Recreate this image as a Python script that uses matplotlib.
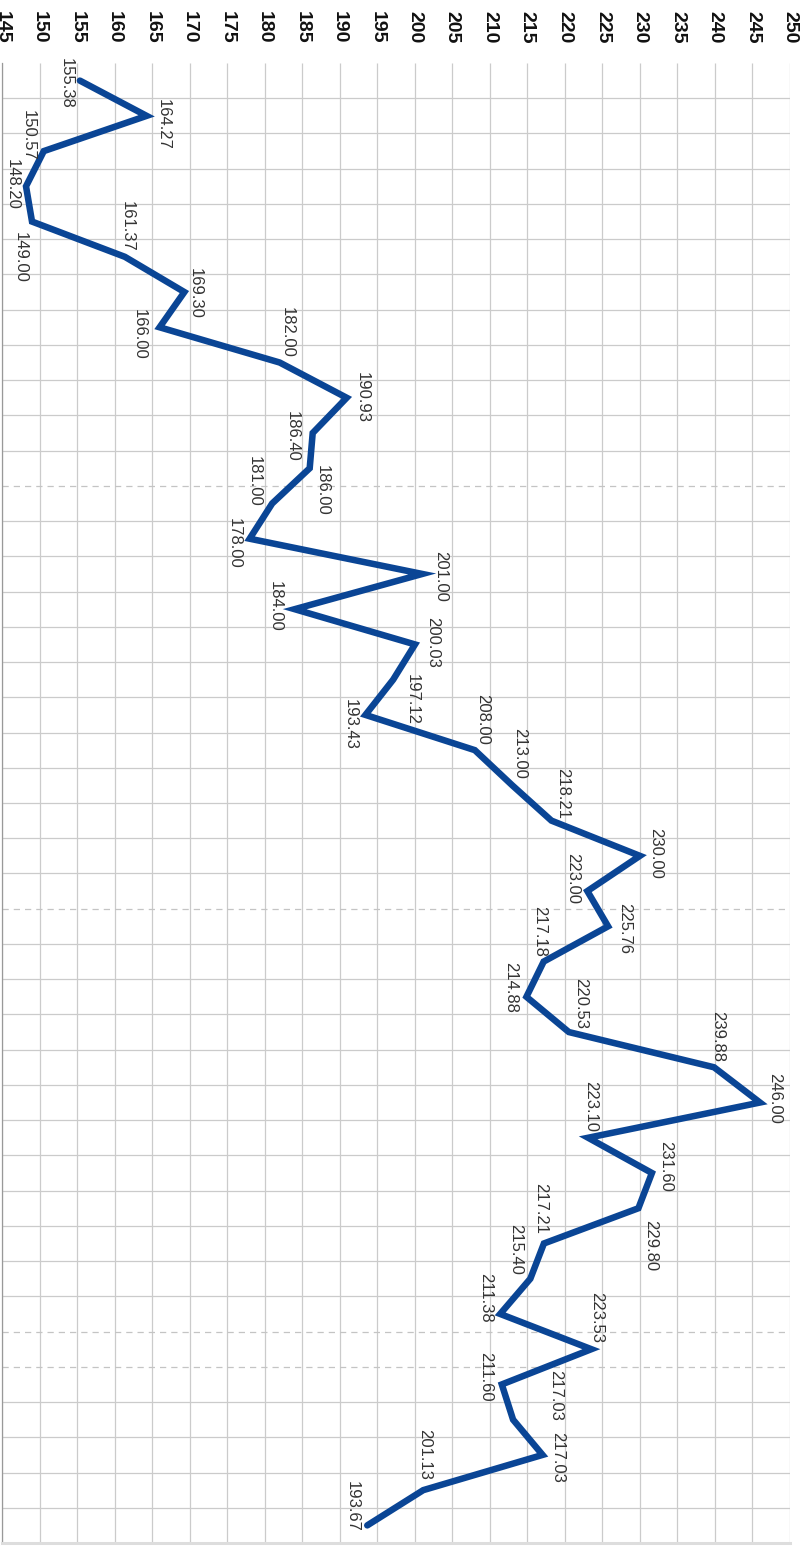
import matplotlib
matplotlib.use("Agg")
import matplotlib.pyplot as plt
import numpy as np

plt.rcParams['font.family'] = ['Liberation Sans', 'DejaVu Sans']

# ---- data ----
values = [155.38, 164.27, 150.57, 148.20, 149.00, 161.37, 169.30, 166.00, 182.00, 190.93,
          186.40, 186.00, 181.00, 178.00, 201.00, 184.00, 200.03, 197.12, 193.43, 208.00,
          213.00, 218.21, 230.00, 223.00, 225.76, 217.18, 214.88, 220.53, 239.88, 246.00,
          223.10, 231.60, 229.80, 217.21, 215.40, 211.38, 223.53, 211.60, 213.10, 217.03,
          201.13, 193.67]
label_texts = ["155.38", "164.27", "150.57", "148.20", "149.00", "161.37", "169.30", "166.00",
               "182.00", "190.93", "186.40", "186.00", "181.00", "178.00", "201.00", "184.00",
               "200.03", "197.12", "193.43", "208.00", "213.00", "218.21", "230.00", "223.00",
               "225.76", "217.18", "214.88", "220.53", "239.88", "246.00", "223.10", "231.60",
               "229.80", "217.21", "215.40", "211.38", "223.53", "211.60", "217.03", "217.03",
               "201.13", "193.67"]
value_ticks = list(range(145, 251, 5))
dashed_boundaries = [12, 24, 36, 37]

# label placement offsets (pixels: right, down) relative to each point
label_offsets = [(-14, 3), (17, 9), (-16, -16), (-13.5, -2), (-12, 35.5), (2.6, -30),
                 (11, 1.5), (-20, 7), (8, -30), (16, 0), (-20, 3.5), (13, 22),
                 (-18, -22), (-15, 5), (18, 2), (-19, -3), (17.5, -1.5), (19, 19.5),
                 (-15, 10), (8, -31), (7, -32), (11, -27), (15.5, -2), (-15, -13),
                 (16.5, 2), (-4, -30), (-16, -9), (12, -29), (4, -31), (15, -4),
                 (2.5, -31), (13.5, -6.5), (12, 37), (-3.5, -35), (-15, -29.5), (-15, -16),
                 (5, -31.5), (-16, -8), (42.5, -24), (15, 3), (1, -35.5), (-15, -19)]

n = len(values)
cats = np.arange(n) + 0.5

fig = plt.figure(figsize=(8.08, 15.52), dpi=100)
ax = fig.add_axes([2 / 808, 9 / 1552, 788 / 808, 1480 / 1552])
ax.set_xlim(145, 250)
ax.set_ylim(n, 0)

grid_c = '#cbcbcb'
ax.vlines(value_ticks, 0, n, color=grid_c, lw=0.9, zorder=1)
for k in range(1, n):
    if k in dashed_boundaries:
        ax.axhline(k, color='#c4c4c4', lw=0.9, ls=(0, (5, 4)), zorder=1)
    else:
        ax.axhline(k, color=grid_c, lw=0.9, zorder=1)

ax.plot(values, cats, color='#0a4595', lw=4.7, solid_joinstyle='miter',
        solid_capstyle='round', zorder=3)

for v, c, t, (dx, dy) in zip(values, cats, label_texts, label_offsets):
    ax.annotate(t, (v, c), xytext=(dx, -dy), textcoords='offset pixels',
                rotation=-90, ha='center', va='center', fontsize=12,
                color='#333333', zorder=4)

for s in ['top', 'right']:
    ax.spines[s].set_visible(False)
ax.spines['left'].set_color('#999999')
ax.spines['left'].set_linewidth(0.9)
ax.spines['bottom'].set_color('#dddddd')
ax.spines['bottom'].set_linewidth(2.2)

ax.xaxis.tick_top()
ax.set_xticks(value_ticks)
ax.set_xticklabels([str(t) for t in value_ticks], rotation=-90, fontweight='bold',
                   fontsize=14, color='#111111')
ax.tick_params(axis='x', length=0, pad=14)
ax.set_yticks([])

fig.savefig('out.png', dpi=100)
